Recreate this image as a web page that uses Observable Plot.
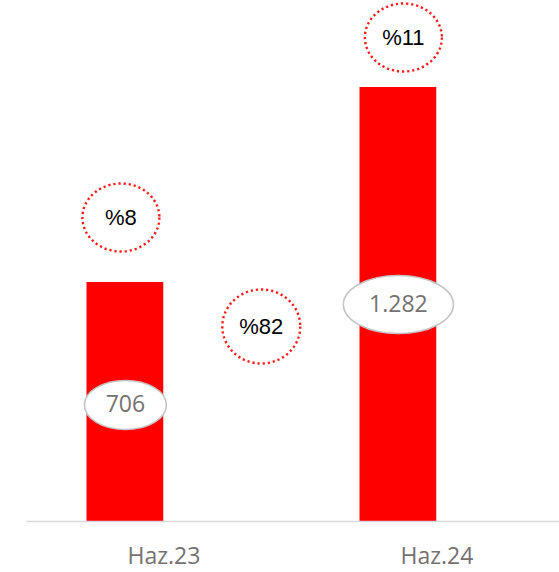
<!DOCTYPE html>
<html>
<head>
<meta charset="utf-8">
<script src="https://cdn.jsdelivr.net/npm/d3@7"></script>
<script src="https://cdn.jsdelivr.net/npm/@observablehq/plot@0.6"></script>
<style>
  html, body { margin: 0; padding: 0; background: #fff; }
  #chart svg { display: block; }
</style>
</head>
<body>
<div id="chart"></div>
<script>
const categories = ["Haz.23", "Haz.24"];
const values = [706, 1282];
const valueLabels = ["706", "1.282"];
const shareLabels = ["%8", "%11"];
const growthLabel = "%82";

const data = categories.map((c, i) => ({cat: c, value: values[i], label: valueLabels[i], share: shareLabels[i]}));

function ellipse(rx, ry) {
  const k = 0.5522847498;
  return {
    draw(ctx) {
      ctx.moveTo(rx, 0);
      ctx.bezierCurveTo(rx, ry * k, rx * k, ry, 0, ry);
      ctx.bezierCurveTo(-rx * k, ry, -rx, ry * k, -rx, 0);
      ctx.bezierCurveTo(-rx, -ry * k, -rx * k, -ry, 0, -ry);
      ctx.bezierCurveTo(rx * k, -ry, rx, -ry * k, rx, 0);
      ctx.closePath();
    }
  };
}

const barDx = -38.6;
const dotted = {fill: "white", stroke: "#ff1a1a", strokeWidth: 2.4, strokeDasharray: "2.2 2.9"};
const pctText = {fill: "#000", fontSize: 22, fontFamily: "Liberation Sans, Arial, sans-serif"};
const valText = {fill: "#757171", fontSize: 23, fontFamily: "Open Sans, sans-serif"};
const valEllipse = {fill: "white", stroke: "#c4c4c4", strokeWidth: 1.6};

const chart = Plot.plot({
  width: 559,
  height: 572,
  marginLeft: 26.5,
  marginRight: 0,
  marginTop: 87,
  marginBottom: 51,
  x: {domain: categories, range: [26.5, 573.5], padding: 0, label: null},
  y: {domain: [0, 1282], axis: null},
  marks: [
    Plot.barY(data, {x: "cat", y: "value", fill: "#ff0000", insetLeft: 59.5, insetRight: 136.75}),
    Plot.ruleY([0], {stroke: "#d9d9d9", strokeWidth: 1.6}),
    Plot.axisX({tickSize: 0, tickPadding: 26.5, fontSize: 23, fontFamily: "Open Sans, sans-serif", fill: "#757171", label: null}),
    // value labels inside bars
    Plot.dot(data.slice(0, 1), {x: "cat", y: d => d.value / 2, dx: barDx, dy: 3, symbol: ellipse(41, 24.5), ...valEllipse}),
    Plot.dot(data.slice(1, 2), {x: "cat", y: d => d.value / 2, dx: barDx, symbol: ellipse(55, 29), ...valEllipse}),
    Plot.text(data.slice(0, 1), {x: "cat", y: d => d.value / 2, dx: barDx, dy: 3, text: "label", ...valText}),
    Plot.text(data.slice(1, 2), {x: "cat", y: d => d.value / 2, dx: barDx, text: "label", ...valText}),
    // share circles above bars
    Plot.dot(data.slice(0, 1), {x: "cat", y: "value", dx: barDx - 4.5, dy: -65, symbol: ellipse(38.5, 34), ...dotted}),
    Plot.text(data.slice(0, 1), {x: "cat", y: "value", dx: barDx - 4.5, dy: -65, text: "share", ...pctText}),
    Plot.dot(data.slice(1, 2), {x: "cat", y: "value", dx: barDx + 5, dy: -50, symbol: ellipse(38.5, 34), ...dotted}),
    Plot.text(data.slice(1, 2), {x: "cat", y: "value", dx: barDx + 5, dy: -50, text: "share", ...pctText}),
    // growth circle between bars
    Plot.dot([growthLabel], {x: () => categories[0], y: () => 0, dx: 97.3, dy: -195, symbol: ellipse(39, 37), ...dotted}),
    Plot.text([growthLabel], {x: () => categories[0], y: () => 0, dx: 97.3, dy: -195, text: d => d, ...pctText})
  ]
});
document.getElementById("chart").appendChild(chart);
</script>
</body>
</html>
